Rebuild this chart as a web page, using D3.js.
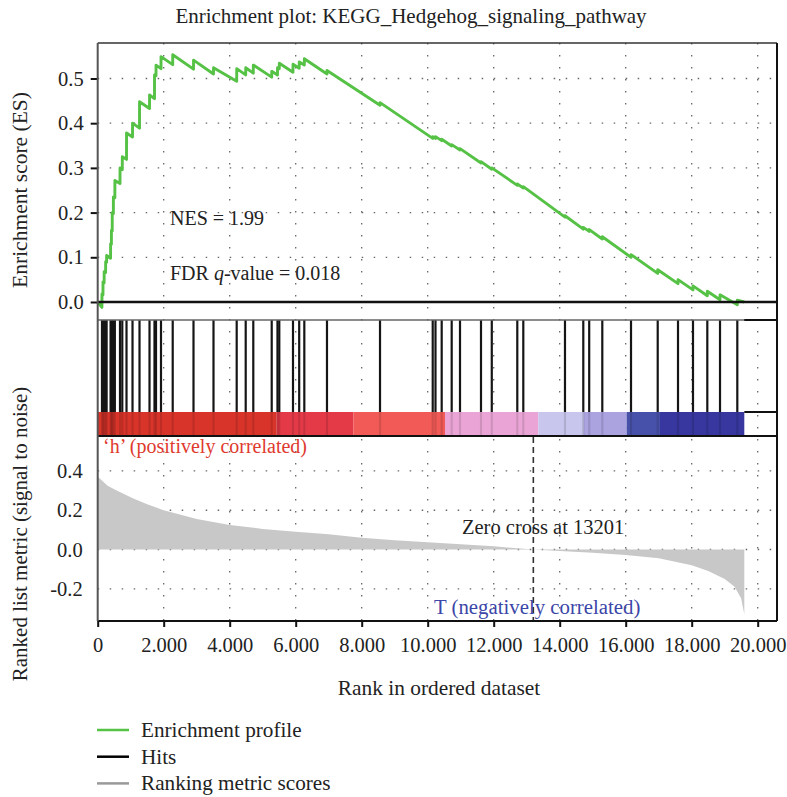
<!DOCTYPE html>
<html>
<head>
<meta charset="utf-8">
<script src="https://cdn.jsdelivr.net/npm/d3@7/dist/d3.min.js"></script>
<style>
  html, body { margin: 0; padding: 0; background: #fff; }
  svg { display: block; font-family: "Liberation Serif", "Times New Roman", serif; }
</style>
</head>
<body>
<svg id="chart" width="787" height="797"></svg>
<script>
// ---- data -------------------------------------------------------------
const chartTitle = "Enrichment plot: KEGG_Hedgehog_signaling_pathway";
const totalGenes = 19594;
const zeroCross = 13201;

// running enrichment score: [rank, ES]
const esRank = [0,128,130,160,161,195,196,240,241,270,271,390,391,415,416,440,441,475,476,520,521,
  676,677,745,746,873,874,1055,1056,1267,1268,1570,1571,1721,1722,1767,1768,1918,1919,2273,2274,
  2903,2904,3509,3510,4212,4213,4485,4486,4715,4716,5273,5274,5448,5449,5503,5504,5918,5919,
  6106,6107,6261,6262,6948,6949,8555,8556,10152,10153,10236,10237,10424,10425,10727,10728,
  10979,10980,11615,11616,11942,11943,12715,12716,12897,12898,14160,14161,14715,14716,14894,14895,
  15291,15292,16161,16162,16970,16971,17585,17586,18039,18040,18473,18474,18858,18859,19382,19383,19594];
const esValue = [0,-0.012,0.018,0.016,0.045,0.043,0.068,0.066,0.090,0.089,0.104,0.098,0.130,0.129,0.160,0.159,0.200,0.198,0.235,0.233,0.272,
  0.265,0.300,0.296,0.325,0.319,0.378,0.369,0.400,0.389,0.448,0.433,0.463,0.455,0.508,0.506,0.530,0.522,0.549,0.531,0.553,
  0.521,0.541,0.510,0.524,0.494,0.522,0.508,0.524,0.512,0.530,0.503,0.516,0.508,0.524,0.522,0.534,0.514,0.532,
  0.523,0.537,0.530,0.544,0.510,0.518,0.440,0.446,0.366,0.370,0.366,0.370,0.361,0.364,0.349,0.352,
  0.340,0.343,0.311,0.314,0.297,0.300,0.261,0.264,0.255,0.258,0.190,0.193,0.163,0.167,0.158,0.162,
  0.141,0.146,0.100,0.106,0.064,0.072,0.041,0.050,0.027,0.036,0.014,0.024,0.005,0.016,-0.006,0.004,0];

// ranks of the gene-set members
const hitRanks = [130,160,195,240,270,390,415,440,475,520,676,745,873,1055,1267,1570,1721,1767,1918,
  2273,2903,3509,4212,4485,4715,5273,5448,5503,5918,6106,6261,6948,8555,10152,10236,10424,10727,
  10979,11615,11942,12715,12897,14160,14715,14894,15291,16161,16970,17585,18039,18473,18858,19382];

// ranked list metric (signal to noise): [rank, value]
const metricRank  = [0,70,300,575,1080,1500,2000,3000,4000,5000,6000,7000,8000,9000,10000,11000,12000,13201,14000,15000,16000,17000,18000,18500,19000,19300,19500,19594];
const metricValue = [0.37,0.36,0.325,0.30,0.26,0.23,0.20,0.155,0.125,0.105,0.09,0.078,0.06,0.047,0.037,0.027,0.016,0.0,-0.007,-0.016,-0.028,-0.045,-0.08,-0.11,-0.15,-0.19,-0.25,-0.33];

// heat bar segments along the ranked list
const barStart = [0,5424,7745,10524,13352,14718,16030,17039];
const barEnd   = [5424,7745,10524,13352,14718,16030,17039,19594];
const barColor = ["#d9342a","#e43a48","#f15a57","#eaa5d6","#c8c6ec","#aba2e0","#4851a9","#37379f"];

const xTicks = [0,2000,4000,6000,8000,10000,12000,14000,16000,18000,20000];
const esTicks = [0.0,0.1,0.2,0.3,0.4,0.5];
const metricTicks = [-0.2,0.0,0.2,0.4];

const legendLabels = ["Enrichment profile","Hits","Ranking metric scores"];
const legendColors = ["#55c145","#000000","#9a9a9a"];

// ---- layout -----------------------------------------------------------
const svg = d3.select("#chart");
const left = 97.7, right = 777, xEnd = 757.7;
const topY = 43, esBottom = 320, hitsBottom = 412, barBottom = 436, metricBottom = 621;
const FS = 20.5;

const x = d3.scaleLinear().domain([0, 20000]).range([left, xEnd]);
const yES = d3.scaleLinear().domain([-0.0403, 0.5794]).range([esBottom, topY]);
const yM = d3.scaleLinear().domain([-0.364, 0.578]).range([metricBottom, barBottom]);

const fmtX = d3.formatLocale({decimal: ",", thousands: ".", grouping: [3], currency: ["", ""]}).format(",d");
const fmtY = d3.formatLocale({decimal: ".", thousands: ",", grouping: [3], currency: ["", ""], minus: "-"}).format(".1f");

const dot = "1.5,10.5";
const gridColor = "#666";

// ---- grid -------------------------------------------------------------
const grid = svg.append("g");
grid.selectAll("line.v").data(xTicks.filter(d => d > 0)).join("line")
  .attr("x1", d => x(d)).attr("x2", d => x(d))
  .attr("y1", topY).attr("y2", metricBottom)
  .attr("stroke", gridColor).attr("stroke-width", 1.3).attr("stroke-dasharray", dot);
grid.selectAll("line.h1").data(esTicks.filter(d => d > 0)).join("line")
  .attr("x1", left).attr("x2", right)
  .attr("y1", d => yES(d)).attr("y2", d => yES(d))
  .attr("stroke", gridColor).attr("stroke-width", 1.3).attr("stroke-dasharray", dot);
grid.selectAll("line.h2").data(metricTicks).join("line")
  .attr("x1", left).attr("x2", right)
  .attr("y1", d => yM(d)).attr("y2", d => yM(d))
  .attr("stroke", gridColor).attr("stroke-width", 1.3).attr("stroke-dasharray", dot);

// ---- ranked metric area ----------------------------------------------
const metric = metricRank.map((r, i) => [r, metricValue[i]]);
svg.append("path").datum(metric)
  .attr("fill", "#c8c8c8")
  .attr("d", d3.area().x(d => x(d[0])).y0(yM(0)).y1(d => yM(d[1])));

// zero-cross marker
svg.append("line")
  .attr("x1", x(zeroCross)).attr("x2", x(zeroCross))
  .attr("y1", barBottom + 1).attr("y2", metricBottom)
  .attr("stroke", "#333").attr("stroke-width", 1.6).attr("stroke-dasharray", "6,4");

// ---- heat bar ---------------------------------------------------------
svg.append("g").selectAll("rect").data(barStart).join("rect")
  .attr("x", (d) => x(d))
  .attr("width", (d, i) => x(barEnd[i]) - x(d))
  .attr("y", hitsBottom).attr("height", barBottom - hitsBottom)
  .attr("fill", (d, i) => barColor[i]);

// ---- hits -------------------------------------------------------------
const hits = svg.append("g");
hits.selectAll("line.hit").data(hitRanks).join("line")
  .attr("x1", d => x(d)).attr("x2", d => x(d))
  .attr("y1", esBottom).attr("y2", hitsBottom)
  .attr("stroke", "#151515").attr("stroke-width", 2.2);
hits.selectAll("line.shade").data(hitRanks).join("line")
  .attr("x1", d => x(d)).attr("x2", d => x(d))
  .attr("y1", hitsBottom).attr("y2", barBottom)
  .attr("stroke", "#000").attr("stroke-opacity", 0.12).attr("stroke-width", 2.2);

// ---- frame lines ------------------------------------------------------
const frame = svg.append("g").attr("fill", "none");
frame.append("line").attr("x1", left).attr("x2", right).attr("y1", topY).attr("y2", topY)
  .attr("stroke", "#333").attr("stroke-width", 1.5);
frame.append("line").attr("x1", right).attr("x2", right).attr("y1", topY).attr("y2", metricBottom)
  .attr("stroke", "#111").attr("stroke-width", 2);
frame.append("line").attr("x1", left).attr("x2", right).attr("y1", esBottom).attr("y2", esBottom)
  .attr("stroke", "#666").attr("stroke-width", 1.5);
frame.append("line").attr("x1", x(totalGenes)).attr("x2", right).attr("y1", esBottom).attr("y2", esBottom)
  .attr("stroke", "#111").attr("stroke-width", 2);
frame.append("line").attr("x1", x(totalGenes)).attr("x2", right).attr("y1", hitsBottom).attr("y2", hitsBottom)
  .attr("stroke", "#111").attr("stroke-width", 2);
frame.append("line").attr("x1", left).attr("x2", right).attr("y1", barBottom).attr("y2", barBottom)
  .attr("stroke", "#111").attr("stroke-width", 2);

// ---- enrichment profile ------------------------------------------------
const es = esRank.map((r, i) => [r, esValue[i]]);
svg.append("path").datum(es)
  .attr("fill", "none").attr("stroke", "#55c145").attr("stroke-width", 2.9)
  .attr("stroke-linejoin", "round")
  .attr("d", d3.line().x(d => x(d[0])).y(d => yES(d[1])));

// zero line of the ES panel
svg.append("line").attr("x1", left).attr("x2", right).attr("y1", yES(0)).attr("y2", yES(0))
  .attr("stroke", "#111").attr("stroke-width", 2.6);

// ---- axes -------------------------------------------------------------
function styleAxis(g) {
  g.attr("font-family", "Liberation Serif, Times New Roman, serif");
  g.selectAll("text").attr("font-size", FS).attr("fill", "#222");
  g.selectAll(".tick line").attr("stroke", "#111").attr("stroke-width", 2);
}

const axES = svg.append("g").attr("transform", `translate(${left},0)`)
  .call(d3.axisLeft(yES).tickValues(esTicks).tickFormat(fmtY).tickSize(7).tickPadding(7))
  .call(styleAxis);
axES.select(".domain").remove();

const axM = svg.append("g").attr("transform", `translate(${left},0)`)
  .call(d3.axisLeft(yM).tickValues(metricTicks).tickFormat(fmtY).tickSize(0).tickPadding(15))
  .call(styleAxis);
axM.select(".domain").remove();

const axX = svg.append("g").attr("transform", `translate(0,${metricBottom})`)
  .call(d3.axisBottom(x).tickValues(xTicks).tickFormat(fmtX).tickSize(6).tickPadding(10))
  .call(styleAxis);
axX.select(".domain").remove();
svg.append("line").attr("x1", left).attr("x2", right).attr("y1", metricBottom).attr("y2", metricBottom)
  .attr("stroke", "#111").attr("stroke-width", 2.2);
svg.append("line").attr("x1", left).attr("x2", left).attr("y1", topY).attr("y2", metricBottom)
  .attr("stroke", "#555").attr("stroke-width", 2);

// ---- text -------------------------------------------------------------
function label(txt, xp, yp, opts = {}) {
  const t = svg.append("text").attr("x", xp).attr("y", yp)
    .attr("font-size", opts.size || FS).attr("fill", opts.color || "#222")
    .attr("text-anchor", opts.anchor || "start").text(txt);
  if (opts.rotate) t.attr("transform", `rotate(-90,${xp},${yp})`);
  return t;
}

label(chartTitle, 411, 23, {anchor: "middle", size: 21});
label("Enrichment score (ES)", 27, 190, {anchor: "middle", rotate: true, size: 21.5});
label("Ranked list metric (signal to noise)", 27, 534, {anchor: "middle", rotate: true, size: 21});
label("Rank in ordered dataset", 439, 695, {anchor: "middle", size: 21.4});

label("NES = 1.99", 170, 225, {size: 20});
const fdr = label("FDR ", 170, 280, {size: 20});
fdr.append("tspan").attr("font-style", "italic").text("q");
fdr.append("tspan").text("-value = 0.018");

label("\u2018h\u2019 (positively correlated)", 103, 453, {color: "#e03a2e", size: 20});
label("Zero cross at 13201", 462, 534);
label("T (negatively correlated)", 434, 614, {color: "#3b46a8", size: 20.8});

// ---- legend -----------------------------------------------------------
const lg = svg.append("g");
legendLabels.forEach((name, i) => {
  const yy = 730 + i * 26.7;
  lg.append("line").attr("x1", 97).attr("x2", 129).attr("y1", yy).attr("y2", yy)
    .attr("stroke", legendColors[i]).attr("stroke-width", 2.5);
  lg.append("text").attr("x", 141).attr("y", yy + 7).attr("font-size", 21.2)
    .attr("fill", "#222").text(name);
});
</script>
</body>
</html>
